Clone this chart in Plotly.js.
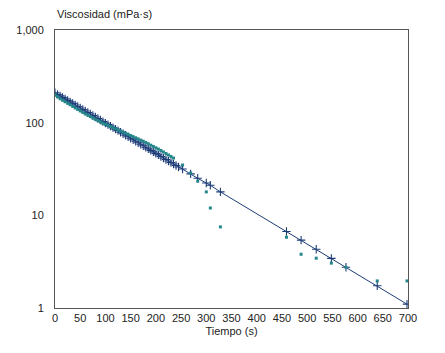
<!DOCTYPE html>
<html>
<head>
<meta charset="utf-8">
<script src="https://cdn.plot.ly/plotly-3.0.1.min.js"></script>
<style>html,body{margin:0;padding:0;background:#fff;}#chart{width:445px;height:353px;}</style>
</head>
<body>
<div id="chart"></div>
<script>
// Series A (navy crosses + line)
const timeA = [0,5,10,15,20,25,30,35,40,45,50,55,60,65,70,75,80,85,90,95,100,105,110,115,120,125,130,135,140,145,150,155,160,165,170,175,180,185,190,195,200,205,210,215,220,225,230,235,240,245,253,269,283,300,308,328,459,488,518,548,577,639,698];
const viscA = [210,202.2,194.8,187.6,180.7,174.0,167.6,161.4,155.4,149.7,144.2,138.8,133.7,128.8,124.0,119.4,115.0,110.8,106.7,102.7,98.9,95.3,91.8,88.4,85.1,82.0,78.9,76.0,73.2,70.5,67.9,65.4,63.0,60.7,58.4,56.3,54.2,52.2,50.2,48.4,46.6,44.9,43.2,41.6,40.1,38.6,37.2,35.8,34.5,33.2,31.6,28.0,25.1,22.3,21.1,17.9,6.7,5.4,4.3,3.43,2.75,1.74,1.1];
// Series B (teal squares)
const timeB = [0,5,10,15,20,25,30,35,40,45,50,55,60,65,70,75,80,85,90,95,100,105,110,115,120,125,130,135,140,145,150,155,160,165,170,175,180,185,190,195,200,205,210,215,220,225,230,235,253,269,283,300,308,328,459,488,518,548,577,639,698];
const viscB = [200,190,181,174.5,168,162,156,150,144.5,139,134,129,124.3,120.4,116.6,112.2,108.7,105.3,101.9,98.6,95.9,93.4,90.9,88.4,86.0,83.6,81.3,79.0,76.9,74.7,72.7,70.6,68.7,66.8,64.8,63.1,61.2,59.2,57.2,55.4,53.6,51.9,50.1,48.3,46.5,44.8,43.2,41.5,34.9,28.6,23.4,17.9,12.0,7.5,5.8,3.8,3.45,3.05,2.75,1.96,1.96];
const xTicks = [0,50,100,150,200,250,300,350,400,450,500,550,600,650,700];
const yTickVals = [1,10,100,1000];
const yTickText = ['1','10','100','1,000'];

const navy = '#1c3c78';
const teal = '#23878a';

const traces = [
  {x: timeA, y: viscA, type: 'scatter', mode: 'lines+markers',
   line: {color: navy, width: 1},
   marker: {symbol: 'cross-thin-open', size: 6, color: navy, line: {color: navy, width: 1.1}}, hoverinfo: 'skip'},
  {x: timeB, y: viscB, type: 'scatter', mode: 'markers',
   marker: {symbol: 'square', size: 3, color: teal, line: {width: 0}}, hoverinfo: 'skip'}
];

const font = {family: 'Liberation Sans, Arial, sans-serif', size: 11, color: '#222'};
const layout = {
  width: 445, height: 353,
  margin: {l: 55, r: 37, t: 30, b: 45},
  paper_bgcolor: '#fff', plot_bgcolor: '#fff',
  showlegend: false,
  font: font,
  xaxis: {range: [0, 700], tickvals: xTicks, ticks: '', showgrid: false, zeroline: false,
          showline: true, linecolor: '#555', linewidth: 1, mirror: true,
          tickfont: font, title: {text: 'Tiempo (s)', font: font, standoff: 4}},
  yaxis: {type: 'log', range: [0, 3], tickvals: yTickVals, ticktext: yTickText, ticks: '',
          showgrid: false, zeroline: false, showline: true, linecolor: '#555', linewidth: 1, mirror: true,
          tickfont: font, ticklabelstandoff: 8},
  annotations: [{text: 'Viscosidad (mPa·s)', xref: 'paper', yref: 'paper', x: 0, y: 1,
                 xanchor: 'left', yanchor: 'bottom', yshift: 8, xshift: 0, showarrow: false, font: font}]
};
Plotly.newPlot('chart', traces, layout, {displayModeBar: false, staticPlot: true});
</script>
</body>
</html>
